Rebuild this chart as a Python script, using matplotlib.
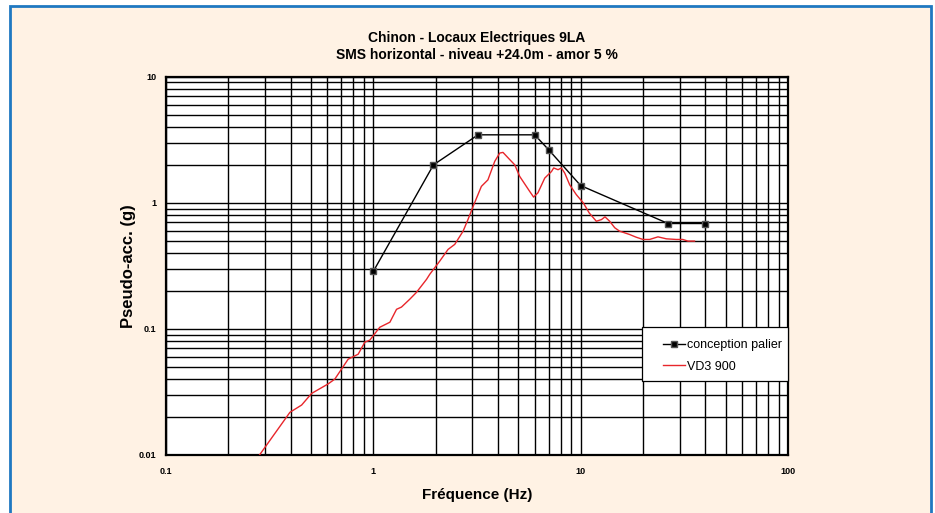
import matplotlib.pyplot as plt
import matplotlib.patches as patches
from matplotlib.ticker import LogLocator, NullFormatter, FixedLocator, FixedFormatter

# conception palier (envelope)
palier_f = [1.0, 1.95, 3.2, 6.0, 7.0, 10.0, 26.4, 40.0]
palier_a = [0.286, 2.0, 3.46, 3.46, 2.64, 1.37, 0.685, 0.685]

# VD3 900 spectrum
vd3_f = [0.28, 0.396, 0.451, 0.504, 0.605, 0.652, 0.756, 0.845, 0.910, 0.962,
         1.074, 1.202, 1.294, 1.367, 1.499, 1.615, 1.805, 1.871, 2.091, 2.293,
         2.47, 2.71, 2.86, 3.03, 3.32, 3.57, 3.85, 4.07, 4.22, 4.55,
         4.81, 5.08, 5.47, 5.68, 5.93, 6.22, 6.71, 7.23, 7.41, 7.78,
         8.07, 8.38, 8.85, 9.53, 10.3, 11.0, 11.9, 12.6, 13.1, 13.8,
         14.6, 15.4, 17.2, 18.5, 20.0, 21.5, 23.6, 25.9, 28.9, 31.1,
         32.9, 35.4]
vd3_a = [0.0098, 0.0218, 0.0249, 0.0308, 0.0366, 0.040, 0.0575, 0.063, 0.0785, 0.0815,
         0.103, 0.113, 0.143, 0.149, 0.172, 0.195, 0.247, 0.271, 0.345, 0.427,
         0.468, 0.596, 0.736, 0.938, 1.35, 1.52, 2.13, 2.48, 2.51, 2.20,
         2.00, 1.62, 1.35, 1.23, 1.11, 1.20, 1.57, 1.77, 1.89, 1.83,
         1.89, 1.72, 1.39, 1.16, 0.998, 0.83, 0.714, 0.736, 0.774, 0.714,
         0.634, 0.596, 0.561, 0.534, 0.512, 0.512, 0.537, 0.518, 0.512, 0.512,
         0.497, 0.497]

x_ticks = [0.1, 1, 10, 100]
x_labels = ['0.1', '1', '10', '100']
y_ticks = [0.01, 0.1, 1, 10]
y_labels = ['0.01', '0.1', '1', '10']

plt.rcParams['font.family'] = ['Liberation Sans Narrow', 'Liberation Sans', 'DejaVu Sans']

fig = plt.figure(figsize=(9.35, 5.13), dpi=100, facecolor='white')

# cream panel with blue border
frame = patches.Rectangle((10/935, -0.1), 921/935, 1.1 - 6/513, transform=fig.transFigure,
                          facecolor='#fff2e4', edgecolor='#1f78c1', linewidth=2, zorder=-10)
fig.patches.append(frame)

ax = fig.add_axes([166/935, 1 - 455/513, 622/935, 378.3/513])
ax.set_zorder(1)
ax.set_facecolor('white')
ax.set_xscale('log')
ax.set_yscale('log')
ax.set_xlim(0.1, 100)
ax.set_ylim(0.01, 10)

ax.grid(True, which='both', color='black', linewidth=1.0)
ax.set_axisbelow(True)
ax.xaxis.set_major_locator(FixedLocator(x_ticks))
ax.xaxis.set_major_formatter(FixedFormatter(x_labels))
ax.yaxis.set_major_locator(FixedLocator(y_ticks))
ax.yaxis.set_major_formatter(FixedFormatter(y_labels))
ax.xaxis.set_minor_locator(LogLocator(base=10, subs=range(2, 10), numticks=20))
ax.yaxis.set_minor_locator(LogLocator(base=10, subs=range(2, 10), numticks=20))
ax.xaxis.set_minor_formatter(NullFormatter())
ax.yaxis.set_minor_formatter(NullFormatter())
ax.tick_params(which='both', length=0)
ax.tick_params(axis='x', pad=9, labelsize=6.5)
ax.tick_params(axis='y', pad=7, labelsize=6.5)
for lab in ax.get_xticklabels() + ax.get_yticklabels():
    lab.set_fontweight('bold')
    lab.set_family(['Liberation Sans', 'DejaVu Sans'])
for s in ax.spines.values():
    s.set_linewidth(1.6)
    s.set_color('black')

ax.plot(vd3_f, vd3_a, color='#e8262b', linewidth=1.0, label='VD3 900', zorder=3)
ax.plot(palier_f, palier_a, color='black', linewidth=1.0, marker='s', markersize=5,
        markerfacecolor='black', markeredgecolor='#555555', label='conception palier', zorder=4)

# legend box (white, black edge) with a frameless legend inside
box = patches.Rectangle((0.765, 0.1956), 0.235, 0.1424, transform=ax.transAxes,
                        facecolor='white', edgecolor='black', linewidth=0.9,
                        clip_on=False, zorder=5)
ax.add_patch(box)
handles, labels = ax.get_legend_handles_labels()
leg = ax.legend(handles[::-1], labels[::-1], loc='center left', bbox_to_anchor=(0.799, 0.262),
                fontsize=9, frameon=False, handlelength=1.75, handletextpad=0.2,
                borderpad=0, labelspacing=0.75, borderaxespad=0)
leg.set_zorder(6)

ax.set_title('Chinon - Locaux Electriques 9LA\nSMS horizontal - niveau +24.0m - amor 5 %',
             fontsize=10, fontweight='bold', pad=13, linespacing=1.2)
ax.set_xlabel('Fréquence (Hz)', fontsize=11, fontweight='bold', labelpad=8)
ax.set_ylabel('Pseudo-acc. (g)', fontsize=12, fontweight='bold', labelpad=2)

fig.savefig('out.png', dpi=100, facecolor=fig.get_facecolor())
